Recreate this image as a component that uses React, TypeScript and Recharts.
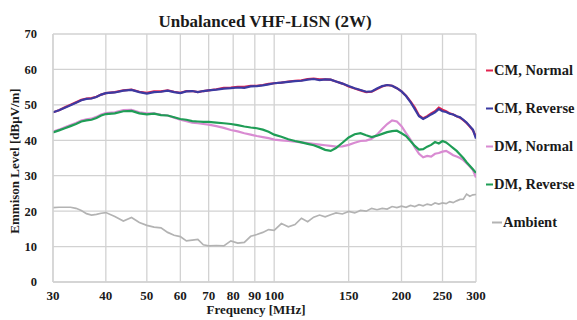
import React from 'react';
import { LineChart, Line, XAxis, YAxis, CartesianGrid } from 'recharts';

const FREQ = [30, 31, 32, 33, 34, 35, 36, 37, 38, 39, 40, 42, 44, 46, 48, 50, 52, 54, 56, 58, 60, 62, 64, 66, 68, 70, 73, 76, 79, 82, 85, 88, 91, 94, 97, 100, 104, 108, 112, 116, 120, 124, 128, 132, 136, 140, 145, 150, 155, 160, 165, 170, 175, 180, 185, 190, 195, 200, 205, 210, 215, 220, 225, 230, 235, 240, 245, 250, 255, 260, 265, 270, 275, 280, 285, 290, 295, 300];

const CM_REVERSE = [47.9, 48.5, 49.2, 49.9, 50.6, 51.3, 51.7, 51.8, 52.2, 52.9, 53.3, 53.5, 54.0, 54.2, 53.6, 53.2, 53.6, 53.7, 54.0, 53.6, 53.3, 53.8, 53.9, 53.6, 53.9, 54.1, 54.3, 54.6, 54.7, 54.9, 54.8, 55.2, 55.3, 55.5, 55.8, 56.1, 56.3, 56.5, 56.7, 56.8, 57.1, 57.3, 57.0, 57.2, 57.1, 56.6, 56.0, 55.3, 54.7, 54.2, 53.7, 53.8, 54.6, 55.3, 55.6, 55.4, 54.7, 53.8, 52.5, 50.8, 48.8, 46.8, 46.0, 46.6, 47.3, 47.9, 48.8, 48.2, 48.0, 47.5, 47.3, 46.8, 46.5, 45.8, 45.0, 44.0, 43.0, 40.5];

const CM_NORMAL = [47.9, 48.5, 49.3, 50.0, 50.7, 51.4, 51.8, 51.9, 52.3, 52.9, 53.3, 53.6, 54.1, 54.3, 53.7, 53.4, 53.8, 53.8, 54.1, 53.7, 53.4, 53.9, 53.9, 53.6, 53.9, 54.1, 54.4, 54.8, 54.9, 55.1, 55.1, 55.4, 55.4, 55.6, 55.9, 56.1, 56.3, 56.6, 56.8, 56.9, 57.3, 57.4, 57.2, 57.2, 57.1, 56.6, 56.0, 55.2, 54.6, 54.1, 53.6, 53.7, 54.5, 55.2, 55.6, 55.4, 54.7, 53.8, 52.6, 51.0, 49.2, 47.0, 46.2, 46.8, 47.6, 48.2, 49.2, 48.6, 48.2, 47.6, 47.3, 46.8, 46.4, 45.7, 44.9, 43.9, 42.8, 41.0];

const DM_NORMAL = [42.4, 43.0, 43.7, 44.3, 44.9, 45.6, 45.9, 46.1, 46.6, 47.3, 47.7, 47.9, 48.5, 48.6, 47.9, 47.6, 47.6, 47.2, 47.0, 46.4, 45.8, 45.4, 45.0, 44.8, 44.6, 44.4, 44.0, 43.5, 42.9, 42.5, 42.0, 41.6, 41.2, 40.9, 40.6, 40.2, 40.0, 39.8, 39.6, 39.4, 39.2, 39.0, 38.8, 38.6, 38.4, 38.2, 38.3, 38.7, 39.3, 39.8, 39.9, 40.4, 41.6, 43.2, 44.6, 45.6, 45.3, 44.0, 42.0, 40.2, 38.0, 36.2, 35.2, 35.6, 35.4, 36.2, 36.4, 36.8, 37.0, 36.4, 35.8, 35.4, 35.0, 34.4, 33.5, 32.6, 31.6, 29.5];

const DM_REVERSE = [42.2, 42.8, 43.4, 44.0, 44.6, 45.3, 45.6, 45.8, 46.3, 47.0, 47.4, 47.6, 48.2, 48.3, 47.6, 47.3, 47.5, 47.1, 47.0, 46.5, 46.0, 45.8, 45.4, 45.3, 45.2, 45.2, 45.0, 44.8, 44.6, 44.3, 43.9, 43.6, 43.4, 43.0, 42.4, 41.6, 41.0, 40.3, 39.8, 39.4, 39.0, 38.6, 38.0, 37.3, 37.0, 37.8, 39.3, 40.8, 41.7, 42.0, 41.4, 40.9, 41.3, 41.8, 42.3, 42.6, 42.7, 42.0, 41.2, 39.8, 38.4, 37.4, 37.5, 38.2, 38.7, 39.5, 39.1, 39.8, 39.4, 38.6, 37.8, 37.0, 36.0, 35.0, 33.8, 32.8, 31.8, 30.8];

const AMBIENT = [21.0, 21.1, 21.1, 21.1, 20.8, 20.2, 19.3, 18.9, 19.1, 19.4, 19.6, 18.5, 17.2, 18.2, 16.8, 16.0, 15.5, 15.3, 14.0, 13.2, 12.8, 11.6, 11.8, 12.0, 10.5, 10.2, 10.3, 10.2, 11.6, 11.0, 11.2, 12.9, 13.4, 14.0, 14.8, 14.6, 16.5, 15.6, 16.2, 18.0, 17.0, 18.3, 18.9, 18.4, 19.0, 19.5, 19.2, 19.9, 19.5, 20.2, 20.0, 20.8, 20.4, 20.8, 20.6, 21.3, 21.0, 21.4, 21.1, 21.6, 21.3, 21.8, 21.5, 22.0, 21.7, 22.3, 22.0, 22.3, 22.1, 22.7, 22.4, 22.9, 23.3, 23.4, 24.8, 24.2, 24.6, 24.7];

const X_TICKS = [30, 40, 50, 60, 70, 80, 90, 100, 150, 200, 250, 300];
const Y_TICKS = [0, 10, 20, 30, 40, 50, 60, 70];

const SERIES = [
  { key: 'cmN', name: 'CM, Normal', color: '#e2234f', width: 2.2 },
  { key: 'cmR', name: 'CM, Reverse', color: '#3b3ba2', width: 2.2 },
  { key: 'dmN', name: 'DM, Normal', color: '#d98bd2', width: 2.2 },
  { key: 'dmR', name: 'DM, Reverse', color: '#1f9d56', width: 2.2 },
  { key: 'amb', name: 'Ambient', color: '#b3b3b3', width: 1.7 },
];

const rows = FREQ.map((f, i) => ({
  f,
  cmN: CM_NORMAL[i],
  cmR: CM_REVERSE[i],
  dmN: DM_NORMAL[i],
  dmR: DM_REVERSE[i],
  amb: AMBIENT[i],
}));

const FONT = '"Liberation Serif", "DejaVu Serif", serif';
const LEGEND_Y = [70, 108, 146, 184, 222];

export default function App() {
  return (
    <div style={{ position: 'absolute', left: 0, top: 0, width: 577, height: 320, overflow: 'hidden', fontFamily: FONT, background: '#fff' }}>
      <LineChart width={577} height={320} data={rows} margin={{ top: 34, right: 101, bottom: 8, left: 13 }}>
        <CartesianGrid stroke="#d2d2d2" strokeWidth={1.3} />
        <XAxis
          dataKey="f"
          type="number"
          scale="log"
          domain={[30, 300]}
          ticks={X_TICKS}
          allowDataOverflow
          height={30}
          axisLine={{ stroke: '#d2d2d2', strokeWidth: 1.3 }}
          tickLine={false}
          tickMargin={3}
          interval={0}
          tick={{ fontFamily: FONT, fontSize: 13, fontWeight: 'bold', fill: '#1a1a1a' }}
        />
        <YAxis
          type="number"
          domain={[0, 70]}
          ticks={Y_TICKS}
          width={40}
          axisLine={{ stroke: '#d2d2d2', strokeWidth: 1.3 }}
          tickLine={false}
          tickMargin={10}
          interval={0}
          tick={{ fontFamily: FONT, fontSize: 12.5, fontWeight: 'bold', fill: '#1a1a1a' }}
        />
        {SERIES.map((s) => (
          <Line
            key={s.key}
            dataKey={s.key}
            name={s.name}
            stroke={s.color}
            strokeWidth={s.width}
            dot={false}
            activeDot={false}
            type="linear"
            isAnimationActive={false}
          />
        ))}
      </LineChart>
      <div style={{ position: 'absolute', left: 265, top: 22, transform: 'translate(-50%,-50%)', whiteSpace: 'nowrap', fontSize: 17, fontWeight: 'bold', color: '#1a1a1a' }}>
        Unbalanced VHF-LISN (2W)
      </div>
      <div style={{ position: 'absolute', left: 256, top: 310, transform: 'translate(-50%,-50%)', whiteSpace: 'nowrap', fontSize: 13, fontWeight: 'bold', color: '#1a1a1a' }}>
        Frequency [MHz]
      </div>
      <div style={{ position: 'absolute', left: 15, top: 161, transform: 'translate(-50%,-50%) rotate(-90deg)', whiteSpace: 'nowrap', fontSize: 13, fontWeight: 'bold', color: '#1a1a1a' }}>
        Emmison Level [dBμV/m]
      </div>
      {SERIES.map((s, i) => {
        const isAmb = s.key === 'amb';
        const lineLeft = isAmb ? 492 : 486;
        const lineW = isAmb ? 10 : 7;
        return (
          <div key={s.key} style={{ position: 'absolute', left: lineLeft, top: LEGEND_Y[i], transform: 'translateY(-50%)', display: 'flex', alignItems: 'center', whiteSpace: 'nowrap' }}>
            <span style={{ display: 'inline-block', width: lineW, height: 2, background: s.color, marginRight: 1 }} />
            <span style={{ fontSize: 14.5, fontWeight: 'bold', color: '#1a1a1a' }}>{s.name}</span>
          </div>
        );
      })}
    </div>
  );
}
